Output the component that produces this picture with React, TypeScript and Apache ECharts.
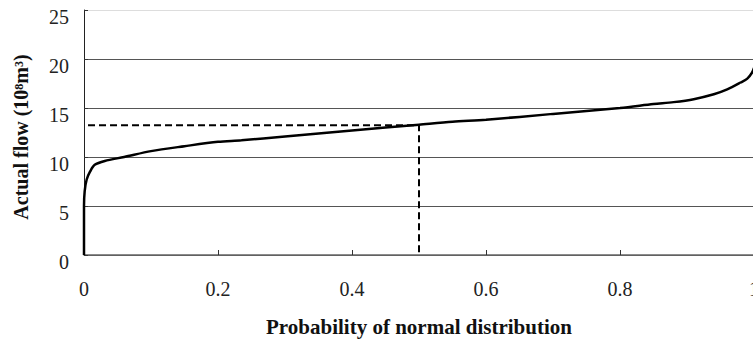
import React, { useEffect, useRef } from "react";
import * as echarts from "echarts";

const probX = [0, 0, 0.001, 0.004, 0.009, 0.016, 0.031, 0.06, 0.1, 0.15, 0.2, 0.235, 0.3, 0.4, 0.5, 0.55, 0.6, 0.7, 0.8, 0.85, 0.88, 0.91, 0.94, 0.96, 0.98, 0.99, 0.997, 1.0];
const flowY = [0, 5, 6.5, 7.7, 8.5, 9.2, 9.6, 10.0, 10.6, 11.1, 11.55, 11.7, 12.1, 12.7, 13.3, 13.6, 13.8, 14.4, 15.0, 15.4, 15.6, 15.9, 16.4, 16.9, 17.6, 18.0, 18.6, 19.1];
const guideX = [0.006, 0.5, 0.5];
const guideY = [13.25, 13.25, 0];
const xTitle = "Probability of normal distribution";
const yTitle = "Actual flow (10⁸m³)";

const FONT = "'Liberation Serif', 'Times New Roman', serif";

export default function App() {
  const ref = useRef<HTMLDivElement>(null);
  useEffect(() => {
    if (!ref.current) return;
    const chart = echarts.init(ref.current, undefined, { renderer: "svg" });
    chart.setOption({
      animation: false,
      backgroundColor: "#ffffff",
      grid: { left: 84, top: 10, width: 670, height: 245, outerBoundsMode: "none", containLabel: false },
      xAxis: {
        type: "value",
        min: 0,
        max: 1,
        interval: 0.2,
        name: xTitle,
        nameLocation: "middle",
        nameGap: 61,
        nameTextStyle: { fontFamily: FONT, fontSize: 21, fontWeight: "bold", color: "#111" },
        axisLine: { show: true, lineStyle: { color: "#666", width: 1.5 } },
        axisTick: { show: true, inside: true, length: 5, lineStyle: { color: "#333" } },
        axisLabel: {
          fontFamily: FONT,
          fontSize: 20,
          color: "#222",
          margin: 24,
          formatter: (v: number) => String(Math.round(v * 10) / 10),
        },
        splitLine: { show: false },
      },
      yAxis: {
        type: "value",
        min: 0,
        max: 25,
        interval: 5,
        name: yTitle,
        nameLocation: "middle",
        nameGap: 53,
        nameTextStyle: {
          fontFamily: FONT,
          fontSize: 20,
          fontWeight: "bold",
          color: "#111",
          padding: [0, 9, 0, 0],
        },
        axisLine: { show: true, lineStyle: { color: "#222", width: 1 } },
        axisTick: { show: true, inside: true, length: 4, lineStyle: { color: "#333" } },
        axisLabel: {
          fontFamily: FONT,
          fontSize: 20,
          color: "#222",
          margin: 15,
          verticalAlign: "top",
          lineHeight: 14,
        },
        splitLine: {
          show: true,
          lineStyle: { color: ["#555", "#555", "#555", "#555", "#555", "#dddddd"], width: 1 },
        },
      },
      series: [
        {
          type: "line",
          data: probX.map((x, i) => [x, flowY[i]]),
          symbol: "none",
          smooth: 0.3,
          lineStyle: { color: "#000", width: 2.5 },
          z: 3,
        },
        {
          type: "line",
          data: guideX.map((x, i) => [x, guideY[i]]),
          symbol: "none",
          lineStyle: { color: "#000", width: 2, type: [7, 4] },
          z: 2,
        },
      ],
    });
    return () => chart.dispose();
  }, []);
  return (
    <div
      ref={ref}
      style={{ position: "fixed", left: 0, top: 0, width: 753, height: 342, background: "#fff" }}
    />
  );
}
